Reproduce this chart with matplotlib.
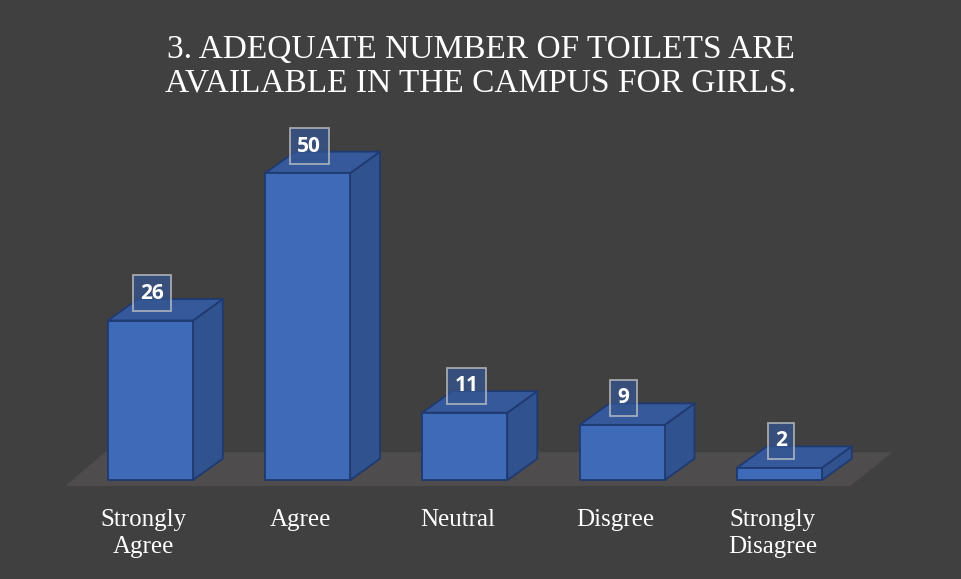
import matplotlib.pyplot as plt
from matplotlib.patches import Polygon

categories = ["Strongly\nAgree", "Agree", "Neutral", "Disgree", "Strongly\nDisagree"]
counts = [26, 50, 11, 9, 2]
title = "3. ADEQUATE NUMBER OF TOILETS ARE\nAVAILABLE IN THE CAMPUS FOR GIRLS."

bg = "#404040"
front_c = "#3f6ab8"
top_c = "#36599c"
side_c = "#30528f"
edge_c = "#1f3a70"

fig = plt.figure(figsize=(9.61, 5.79), dpi=100, facecolor=bg)
ax = fig.add_axes([0, 0, 1, 1])
ax.set_facecolor(bg)
ax.set_xlim(-0.957, 5.155)
ax.set_ylim(-16.1, 78.2)
ax.axis("off")

# depth of the 3d effect in data units
dx, dy = 0.19, 3.5
w = 0.27

# floor
floor = Polygon([(-0.544, -0.98), (4.45, -0.98), (4.72, 4.56), (-0.29, 4.56)],
                closed=True, facecolor="#4e4c4c", edgecolor="none", zorder=1)
ax.add_patch(floor)

for i, v in enumerate(counts):
    x0, x1 = i - w, i + w
    front = [(x0, 0), (x1, 0), (x1, v), (x0, v)]
    top = [(x0, v), (x1, v), (x1 + dx, v + dy), (x0 + dx, v + dy)]
    side = [(x1, 0), (x1 + dx, dy), (x1 + dx, v + dy), (x1, v)]
    for pts, c in [(side, side_c), (top, top_c), (front, front_c)]:
        ax.add_patch(Polygon(pts, closed=True, facecolor=c, edgecolor=edge_c,
                             linewidth=1.3, joinstyle="round", zorder=3))
    ax.text(i + 0.01, v + 4.4, str(v), ha="center", va="center",
            color="white", fontsize=15, fontweight="bold", family="Open Sans",
            zorder=5,
            bbox=dict(boxstyle="square,pad=0.36", facecolor="#34558f",
                      alpha=0.75, edgecolor="#c8c8c8", linewidth=1.3))
    ax.text(i - 0.045, -4.7, categories[i], ha="center", va="top",
            color="white", fontsize=18, family="Liberation Serif",
            linespacing=1.32)

fig.text(0.5, 0.94, title, ha="center", va="top", color="white",
         fontsize=24, family="Liberation Serif", linespacing=1.12)

fig.savefig("out.png", dpi=100, facecolor=bg)
